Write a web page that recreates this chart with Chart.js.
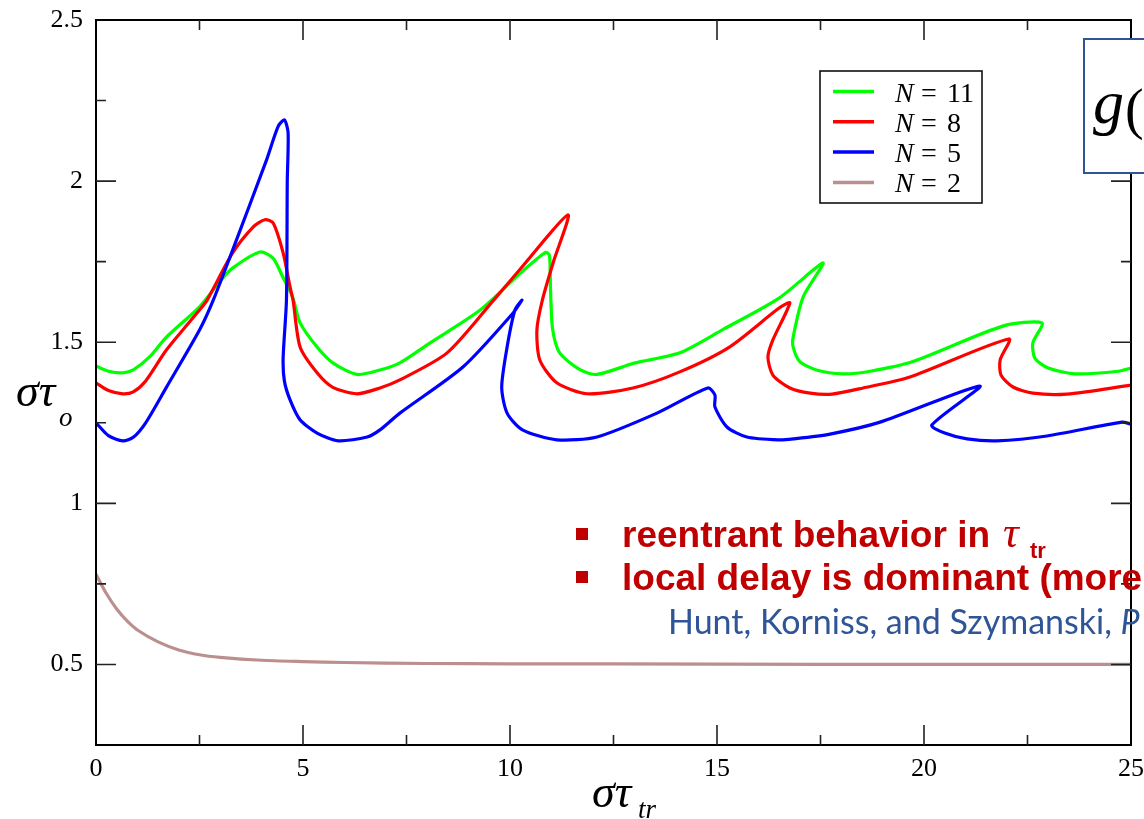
<!DOCTYPE html>
<html><head><meta charset="utf-8">
<script src="https://cdn.jsdelivr.net/npm/chart.js@4/dist/chart.umd.min.js"></script>
<style>html,body{margin:0;padding:0;background:#fff;overflow:hidden}canvas{display:block}</style>
</head><body>
<canvas id="c" width="1144" height="819"></canvas>
<script>
// ---- data ----
const seriesLabels = ['N = 11', 'N = 8', 'N = 5', 'N = 2'];
const seriesColors = ['#00ff00', '#ff0000', '#0000ff', '#bc8f8f'];

const n11X = [0, 0.3, 0.65, 0.9, 1.3, 1.7, 2.5, 3.0, 3.3, 3.96, 4.28, 4.52, 4.75, 4.93, 5.34, 5.72, 6.3, 6.86, 7.34, 8.07, 9.28, 10.3, 10.86, 10.95, 10.97, 10.98, 11.03, 11.2, 11.7, 12.1, 13.0, 14.1, 15.15, 16.5, 17.56, 17.08, 16.84, 16.84, 17.0, 17.4, 18.04, 18.7, 19.73, 21.9, 22.85, 22.63, 22.68, 23.0, 23.65, 24.7, 25];
const n11Y = [1.426, 1.41, 1.405, 1.414, 1.455, 1.516, 1.61, 1.69, 1.73, 1.78, 1.76, 1.70, 1.64, 1.56, 1.485, 1.436, 1.40, 1.414, 1.436, 1.498, 1.6, 1.72, 1.779, 1.77, 1.72, 1.66, 1.54, 1.467, 1.414, 1.40, 1.435, 1.467, 1.54, 1.637, 1.746, 1.64, 1.516, 1.485, 1.44, 1.414, 1.402, 1.41, 1.44, 1.55, 1.56, 1.498, 1.45, 1.42, 1.402, 1.41, 1.42];

const n8X = [0, 0.3, 0.65, 0.9, 1.2, 1.7, 2.5, 2.68, 3.3, 3.8, 4.08, 4.28, 4.52, 4.69, 4.76, 4.93, 5.34, 5.72, 6.3, 6.86, 7.34, 8.48, 9.6, 10.3, 11.4, 11.04, 10.78, 10.65, 10.72, 11.13, 11.86, 12.97, 14.1, 15.3, 16.5, 16.76, 16.35, 16.23, 16.35, 16.76, 17.25, 17.78, 18.53, 19.66, 22.05, 21.84, 21.86, 22.15, 22.63, 23.45, 25];
const n8Y = [1.374, 1.35, 1.34, 1.346, 1.38, 1.476, 1.6, 1.63, 1.777, 1.858, 1.88, 1.87, 1.777, 1.67, 1.63, 1.485, 1.405, 1.36, 1.34, 1.358, 1.383, 1.467, 1.63, 1.735, 1.895, 1.746, 1.63, 1.538, 1.445, 1.374, 1.34, 1.358, 1.408, 1.485, 1.606, 1.622, 1.507, 1.454, 1.398, 1.358, 1.342, 1.339, 1.358, 1.392, 1.51, 1.445, 1.398, 1.361, 1.342, 1.339, 1.367];

const n5X = [0, 0.3, 0.65, 0.9, 1.2, 1.7, 2.5, 2.83, 3.3, 4.12, 4.4, 4.55, 4.64, 4.62, 4.6, 4.52, 4.55, 4.69, 4.93, 5.34, 5.85, 6.55, 6.86, 7.34, 8.87, 10.07, 10.29, 10.12, 9.93, 9.8, 9.93, 10.3, 11.13, 12.1, 13.55, 14.78, 14.95, 14.95, 15.24, 15.72, 16.5, 16.84, 17.73, 18.94, 21.35, 20.19, 20.5, 21.04, 21.76, 22.97, 24.78, 25];
const n5Y = [1.25, 1.21, 1.194, 1.205, 1.25, 1.36, 1.538, 1.63, 1.786, 2.066, 2.17, 2.19, 2.15, 2.0, 1.63, 1.45, 1.38, 1.32, 1.259, 1.218, 1.194, 1.206, 1.228, 1.28, 1.424, 1.59, 1.631, 1.6, 1.485, 1.36, 1.28, 1.228, 1.197, 1.206, 1.28, 1.358, 1.336, 1.299, 1.237, 1.206, 1.197, 1.2, 1.215, 1.252, 1.364, 1.243, 1.218, 1.2, 1.194, 1.209, 1.252, 1.246];

const n2X = [0, 0.25, 0.5, 0.75, 1, 1.5, 2, 2.5, 3, 4, 5, 6, 8, 10, 15, 20, 25];
const n2Y = [0.78, 0.72, 0.672, 0.635, 0.607, 0.57, 0.545, 0.53, 0.522, 0.513, 0.509, 0.506, 0.503, 0.502, 0.501, 0.5, 0.5];

const xTickLabels = [0, 5, 10, 15, 20, 25];
const xMinorTicks = [2.5, 7.5, 12.5, 17.5, 22.5];
const yTickLabels = [0.5, 1, 1.5, 2, 2.5];
const yMinorTicks = [0.75, 1.25, 1.75, 2.25];

const allX = [n11X, n8X, n5X, n2X];
const allY = [n11Y, n8Y, n5Y, n2Y];
const drawOrder = [2, 1, 0, 3];

const datasets = seriesLabels.map((lab, i) => ({
  label: lab,
  data: allX[i].map((x, k) => ({ x: x, y: allY[i][k] })),
  borderColor: seriesColors[i],
  backgroundColor: seriesColors[i],
  borderWidth: 3.2,
  pointRadius: 0,
  showLine: true,
  tension: 0.25,
  fill: false,
  order: drawOrder[i]
}));

const SERIF = '"Liberation Serif", "DejaVu Serif", serif';
const SANS = '"Liberation Sans", Arial, sans-serif';

const framePlugin = {
  id: 'frame',
  afterDraw(chart) {
    const ctx = chart.ctx;
    const a = chart.chartArea;
    const xs = chart.scales.x, ys = chart.scales.y;
    ctx.save();
    ctx.strokeStyle = '#000';
    ctx.lineWidth = 2;
    ctx.strokeRect(a.left, a.top, a.right - a.left, a.bottom - a.top);
    ctx.strokeStyle = '#222';
    ctx.lineWidth = 1.6;
    ctx.beginPath();
    const tk = (vals, len) => {
      vals.forEach(v => {
        const px = xs.getPixelForValue(v);
        ctx.moveTo(px, a.bottom); ctx.lineTo(px, a.bottom - len);
        ctx.moveTo(px, a.top); ctx.lineTo(px, a.top + len);
      });
    };
    const tky = (vals, len) => {
      vals.forEach(v => {
        const py = ys.getPixelForValue(v);
        ctx.moveTo(a.left, py); ctx.lineTo(a.left + len, py);
        ctx.moveTo(a.right, py); ctx.lineTo(a.right - len, py);
      });
    };
    tk(xTickLabels.filter(v => v > 0 && v < 25), 20);
    tk(xMinorTicks, 10);
    tky(yTickLabels.filter(v => v < 2.5), 20);
    tky(yMinorTicks, 10);
    ctx.stroke();

    // axis titles
    ctx.fillStyle = '#000';
    ctx.textBaseline = 'alphabetic';
    ctx.textAlign = 'left';
    ctx.font = 'italic 46px ' + SERIF;
    ctx.fillText('\u03c3\u03c4', 16, 406);
    ctx.font = 'italic 27px ' + SERIF;
    ctx.fillText('o', 59, 426);
    ctx.font = 'italic 46px ' + SERIF;
    ctx.fillText('\u03c3\u03c4', 592, 807);
    ctx.font = 'italic 27px ' + SERIF;
    ctx.fillText('tr', 638, 818);

    // legend
    const lx = 820, ly = 71, lw = 162, lh = 132;
    ctx.fillStyle = '#fff';
    ctx.fillRect(lx, ly, lw, lh);
    ctx.strokeStyle = '#000';
    ctx.lineWidth = 1.5;
    ctx.strokeRect(lx, ly, lw, lh);
    seriesLabels.forEach((lab, i) => {
      const y = 91.5 + i * 30.3;
      ctx.strokeStyle = seriesColors[i];
      ctx.lineWidth = 3.5;
      ctx.beginPath();
      ctx.moveTo(833, y); ctx.lineTo(874, y);
      ctx.stroke();
      const parts = lab.split(' = ');
      ctx.fillStyle = '#000';
      ctx.font = 'italic 28px ' + SERIF;
      ctx.fillText(parts[0], 895, y + 10);
      ctx.font = '28px ' + SERIF;
      ctx.fillText('=', 921, y + 10);
      ctx.fillText(parts[1], 947, y + 10);
    });

    // g( box
    ctx.fillStyle = '#fff';
    ctx.fillRect(1084, 39, 100, 134);
    ctx.strokeStyle = '#2f5597';
    ctx.lineWidth = 2;
    ctx.strokeRect(1084, 39, 100, 134);
    ctx.fillStyle = '#000';
    ctx.font = 'italic 62px ' + SERIF;
    ctx.fillText('g', 1093, 123);
    ctx.font = '56px ' + SERIF;
    ctx.fillText('(', 1125, 128);

    // annotation text
    const red = '#c00000';
    ctx.fillStyle = red;
    ctx.fillRect(576, 528, 12, 12);
    ctx.fillRect(576, 571, 12, 12);
    ctx.font = 'bold 37px ' + SANS;
    ctx.fillText('reentrant behavior in', 622, 547);
    ctx.font = 'italic 44px ' + SERIF;
    ctx.fillText('\u03c4', 1003, 547);
    ctx.font = 'bold 22px ' + SANS;
    ctx.fillText('tr', 1030, 558);
    ctx.font = 'bold 37px ' + SANS;
    ctx.fillText('local delay is dominant (more', 622, 590);
    ctx.fillStyle = '#2f5597';
    ctx.font = '34px Lato, "Open Sans", sans-serif';
    const t3 = 'Hunt, Korniss, and Szymanski, ';
    ctx.fillText(t3, 668, 634);
    const w3 = ctx.measureText(t3).width;
    ctx.font = 'italic 34px Lato, "Open Sans", sans-serif';
    ctx.fillText('P', 668 + w3, 634);
    ctx.restore();
  }
};

new Chart(document.getElementById('c'), {
  type: 'scatter',
  data: { datasets: datasets },
  options: {
    responsive: false,
    animation: false,
    layout: { padding: { left: 0, right: 13, top: 20, bottom: 0 } },
    plugins: { legend: { display: false }, tooltip: { enabled: false } },
    scales: {
      x: {
        type: 'linear', min: 0, max: 25,
        afterBuildTicks: s => { s.ticks = xTickLabels.map(v => ({ value: v })); },
        afterFit: s => { s.height = 74; s.paddingLeft = 0; s.paddingRight = 0; },
        grid: { display: false, drawTicks: false },
        border: { display: false },
        ticks: { padding: 9, color: '#000', font: { family: SERIF, size: 26 }, maxRotation: 0, callback: v => String(v) }
      },
      y: {
        type: 'linear', min: 0.25, max: 2.5,
        afterBuildTicks: s => { s.ticks = yTickLabels.map(v => ({ value: v })); },
        afterFit: s => { s.width = 96; s.paddingTop = 0; s.paddingBottom = 0; },
        grid: { display: false, drawTicks: false },
        border: { display: false },
        ticks: { padding: 13, color: '#000', font: { family: SERIF, size: 26 }, callback: v => String(v) }
      }
    }
  },
  plugins: [framePlugin]
});
</script>
</body></html>
